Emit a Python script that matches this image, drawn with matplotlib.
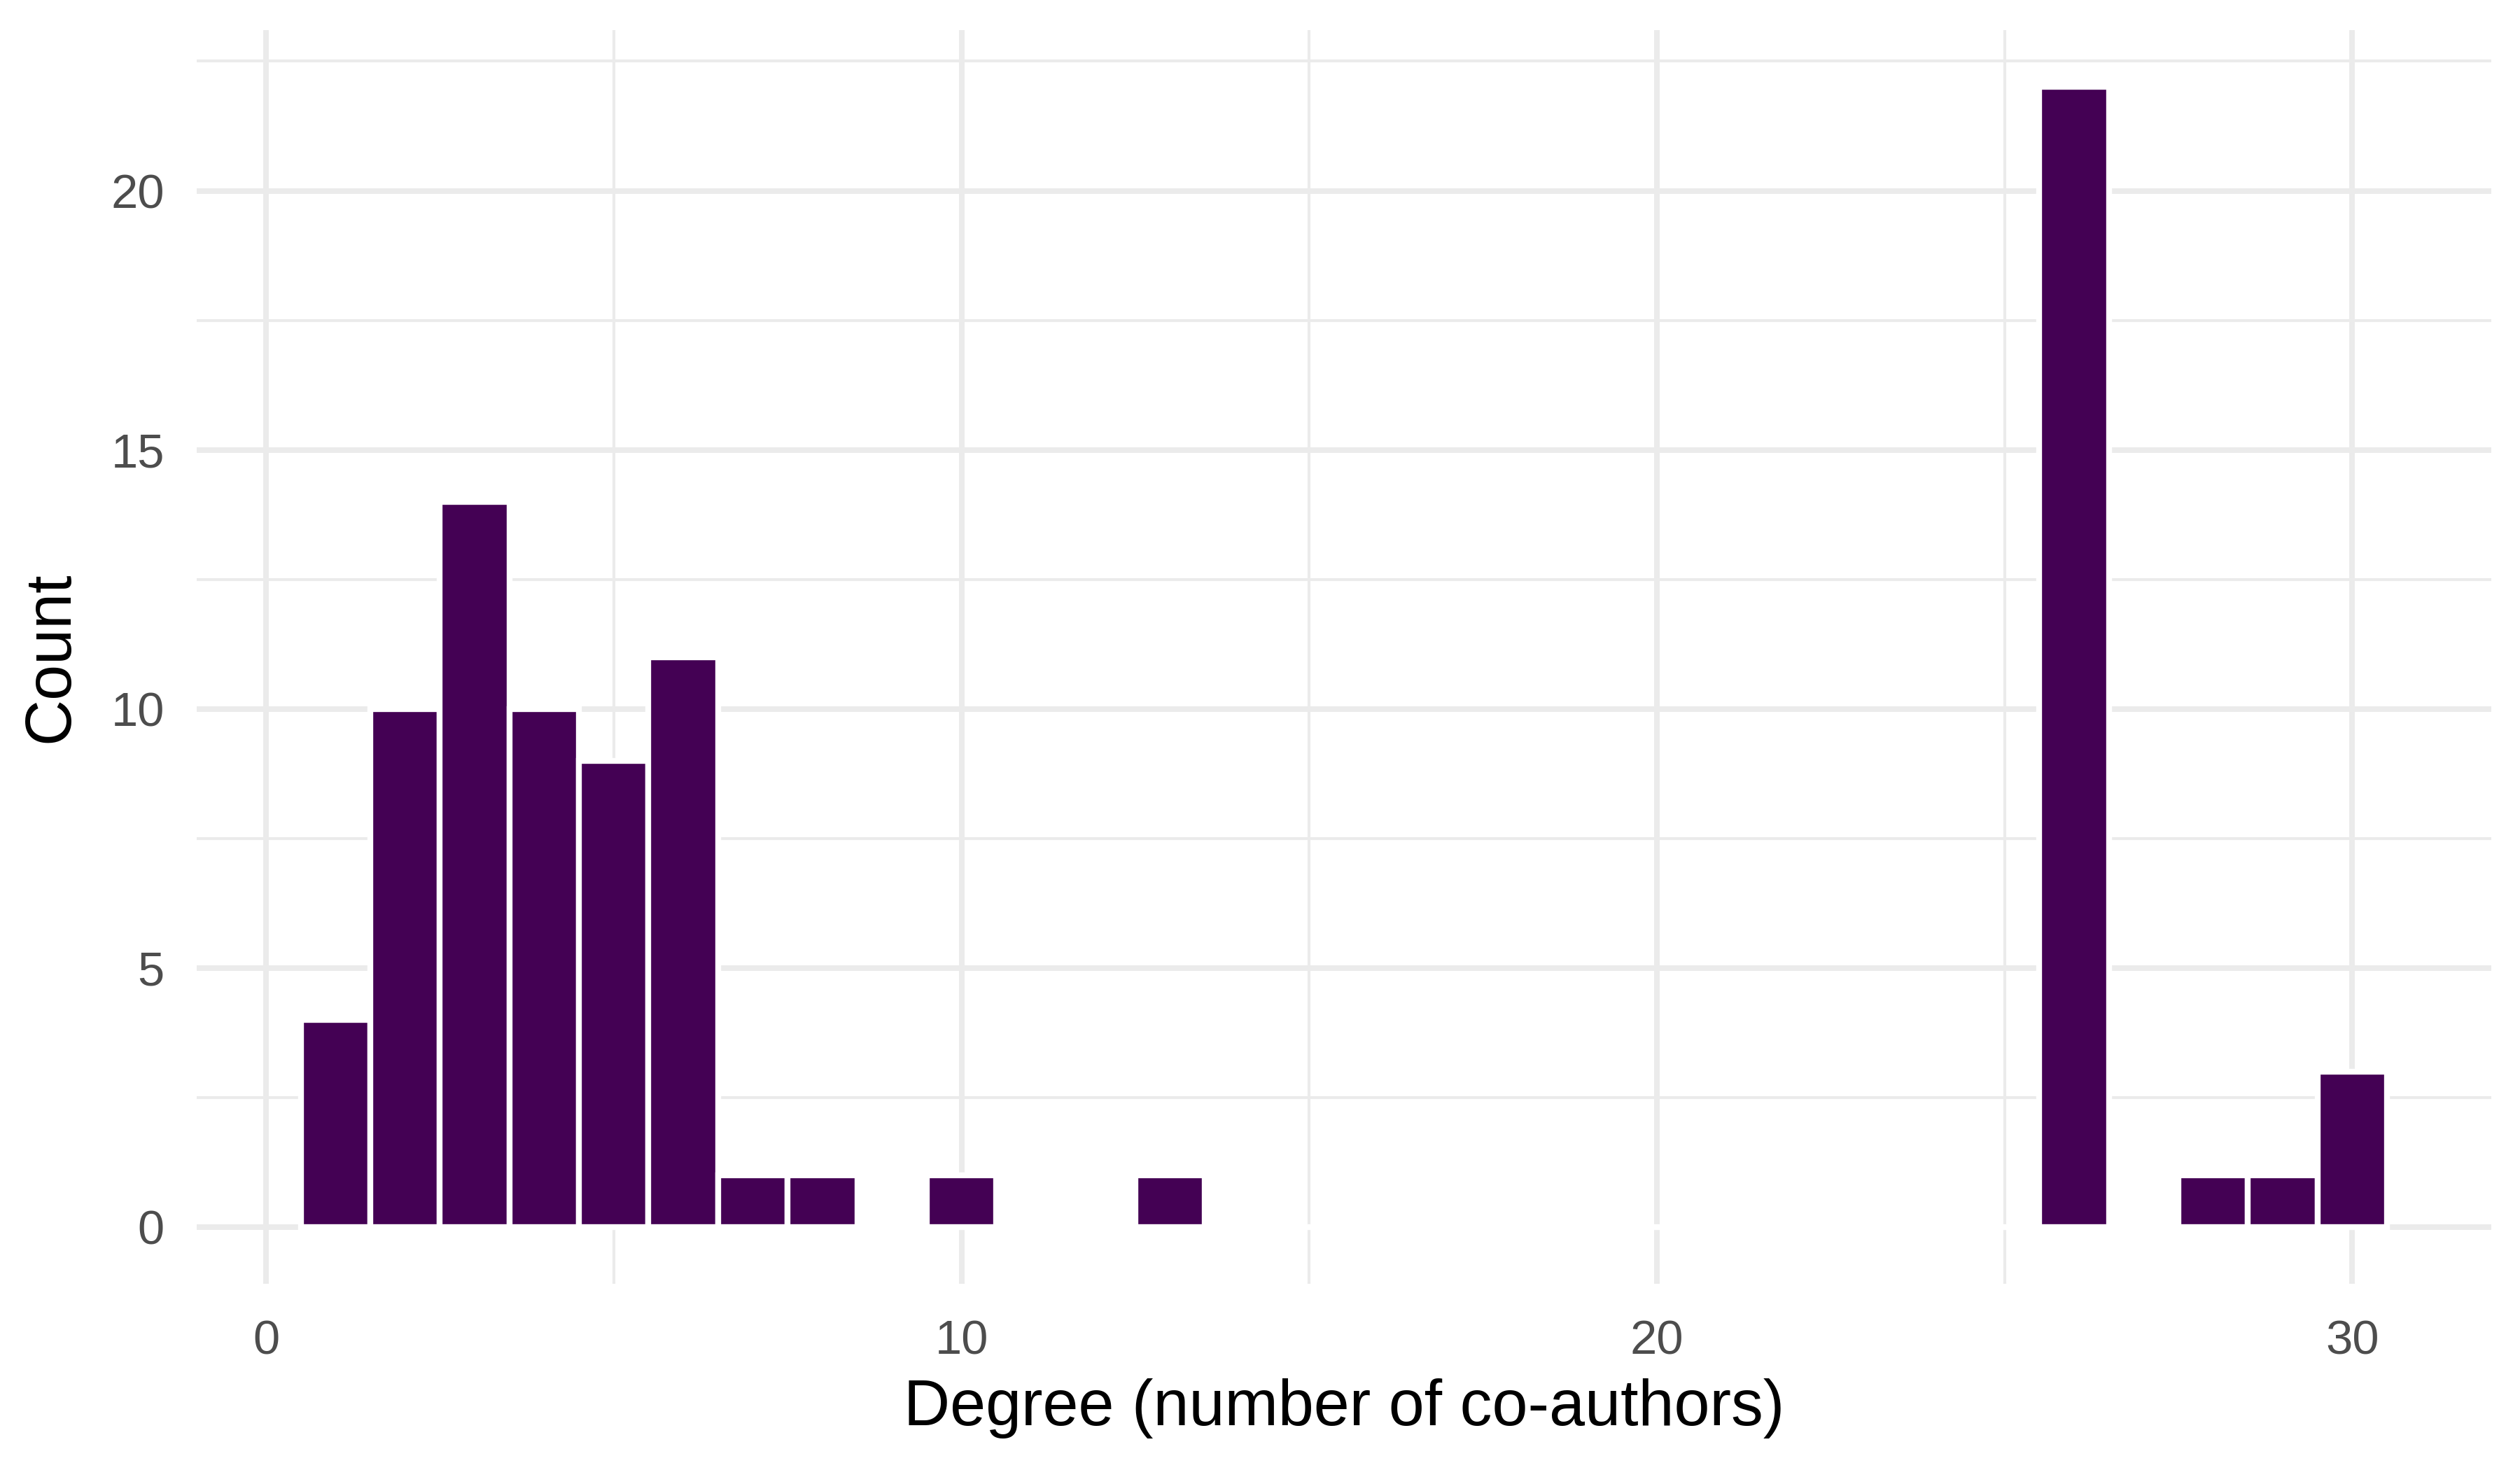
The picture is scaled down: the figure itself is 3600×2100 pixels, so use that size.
import numpy as np
import matplotlib.pyplot as plt

plt.rcParams['font.family'] = ['Liberation Sans', 'DejaVu Sans']

# histogram counts per degree (bin width 1, centred on integers)
degree = list(range(1, 31))
counts = [4, 10, 14, 10, 9, 11, 1, 1, 0, 1,
          0, 0, 1, 0, 0, 0, 0, 0, 0, 0,
          0, 0, 0, 0, 0, 22, 0, 1, 1, 3]
x_ticks = [0, 10, 20, 30]
y_ticks = [0, 5, 10, 15, 20]

fig = plt.figure(figsize=(12, 7), dpi=300)
ax = fig.add_axes([0.078, 0.1265, 0.9106, 0.853])

ax.bar(degree, counts, width=1.0, color='#440154', edgecolor='white',
       linewidth=2.0, zorder=3)

ax.set_xlim(-1, 32)
ax.set_ylim(-1.1, 23.1)
ax.set_xticks(x_ticks)
ax.set_yticks(y_ticks)
ax.set_xticks([5, 15, 25], minor=True)
ax.set_yticks([2.5, 7.5, 12.5, 17.5, 22.5], minor=True)
ax.grid(which='major', color='#EBEBEB', linewidth=1.9, zorder=0)
ax.grid(which='minor', color='#EBEBEB', linewidth=1.0, zorder=0)
ax.set_axisbelow(True)
for s in ax.spines.values():
    s.set_visible(False)
ax.tick_params(which='both', length=0)
ax.tick_params(axis='x', labelsize=16.5, labelcolor='#4D4D4D', pad=12)
ax.tick_params(axis='y', labelsize=16.5, labelcolor='#4D4D4D', pad=11)

ax.set_xlabel('Degree (number of co-authors)', fontsize=22, labelpad=5)
ax.set_ylabel('Count', fontsize=22, labelpad=10)

fig.savefig('out.png', dpi=300, facecolor='white')
